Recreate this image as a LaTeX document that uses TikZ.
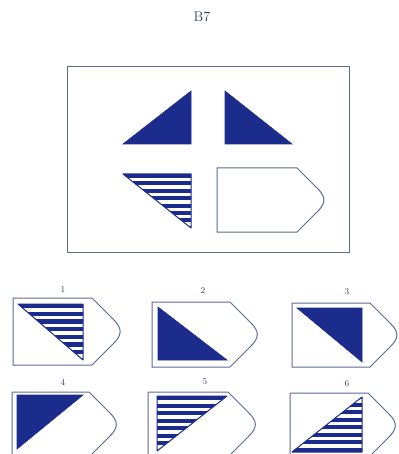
\documentclass[tikz,border=0pt]{standalone}
\usepackage{tikz}
\definecolor{navy}{RGB}{28,44,140}
\definecolor{boxcol}{RGB}{95,105,150}
\definecolor{labcol}{RGB}{55,60,95}
\tikzset{
  boxline/.style={draw=boxcol, line width=1pt},
  solidtri/.style={fill=navy, draw=navy, line width=0.6pt},
  lab/.style={text=labcol, font=\fontsize{9}{10}\selectfont},
}
\newcommand\mytag[4]{% left, top, straight length, height
  \pgfmathsetmacro\mtx{#1+#3}%
  \pgfmathsetmacro\mtd{0.32*#4}%
  \pgfmathsetmacro\mtt{0.1*#4/0.75}%
  \draw[boxline] (#1,#2) -- (\mtx,#2) -- ({\mtx+\mtd},{#2+\mtd})
    .. controls ({\mtx+\mtd+\mtt},{#2+\mtd+\mtt}) and ({\mtx+\mtd+\mtt},{#2+#4-\mtd-\mtt}) ..
    ({\mtx+\mtd},{#2+#4-\mtd}) -- (\mtx,{#2+#4}) -- (#1,{#2+#4}) -- cycle;}
\newcommand\hatchtri[5]{% three points, y of horizontal edge, signed height
  \begin{scope}
    \clip (#1) -- (#2) -- (#3) -- cycle;
    \foreach \i in {0,...,7}
      \fill[navy] (0,{#4+\i*(#5)/7.3}) rectangle (398,{#4+\i*(#5)/7.3+0.55*(#5)/7.3});
  \end{scope}
  \draw[navy, line width=1pt, line join=round] (#1) -- (#2) -- (#3) -- cycle;}
\begin{document}
\begin{tikzpicture}[x=1pt,y=-1pt]
\useasboundingbox (0,0) rectangle (398,454);
\clip (0,0) rectangle (398,454);
\fill[white] (0,0) rectangle (398,454);
% title
\node[text=labcol, font=\fontsize{14}{16}\selectfont] (title) at (202,17) {B7};
% main frame
\draw[boxline] (67,67) rectangle (349,252);
% matrix figures
\fill[solidtri] (123,144) -- (191,91) -- (191,144) -- cycle;
\fill[solidtri] (225,91) -- (225,144) -- (292,144) -- cycle;
\hatchtri{123,174}{191,174}{191,228}{174}{54}
\mytag{217}{168}{80}{64}
% option labels
\node[lab] (l1) at (63,290) {1};
\node[lab] (l2) at (203,291) {2};
\node[lab] (l3) at (347,292) {3};
\node[lab] (l4) at (63,382) {4};
\node[lab] (l5) at (205,382) {5};
\node[lab] (l6) at (347,384) {6};
% option 1
\mytag{13}{298}{79}{67}
\hatchtri{18,304}{83,304}{83,360}{304}{56}
% option 2
\mytag{152}{302}{78}{65}
\fill[solidtri] (158,307) -- (158,360) -- (227,360) -- cycle;
% option 3
\mytag{292}{303}{78}{64}
\fill[solidtri] (297,308) -- (362,308) -- (362,362) -- cycle;
% option 4
\mytag{12}{392}{77}{65}
\fill[solidtri] (17,395) -- (83,395) -- (17,449) -- cycle;
% option 5
\mytag{148}{392}{80}{65}
\hatchtri{157,396}{227,396}{157,451}{396}{55}
% option 6
\mytag{290}{393}{78}{65}
\hatchtri{362,397}{362,452}{292,452}{452}{-55}
\end{tikzpicture}
\end{document}
